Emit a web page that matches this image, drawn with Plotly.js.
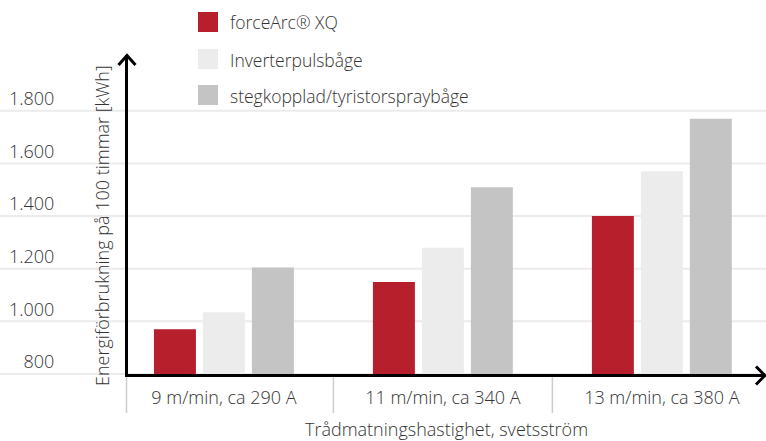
<!DOCTYPE html>
<html><head><meta charset="utf-8">
<script src="https://cdn.plot.ly/plotly-3.0.1.min.js"></script>
<style>html,body{margin:0;padding:0;background:#fff}</style>
</head><body><div id="chart" style="width:766px;height:441px"></div>
<script>
// ---- data ----
const categories = ['9 m/min, ca 290 A', '11 m/min, ca 340 A', '13 m/min, ca 380 A'];
const seriesNames = ['forceArc® XQ', 'Inverterpulsbåge', 'stegkopplad/tyristorspraybåge'];
const forceArcXQ = [970, 1150, 1400];
const inverterpulsbage = [1035, 1280, 1570];
const stegkopplad = [1205, 1510, 1770];
const yTicks = [800, 1000, 1200, 1400, 1600, 1800];
const xTitle = 'Trådmatningshastighet, svetsström';
const yTitle = 'Energiförbrukning på 100 timmar [kWh]';

// ---- style ----
const colors = ['#b71f2c', '#ececec', '#c4c4c4'];
const W = 766, H = 441, L = 128, R = 1, T = 55, B = 67;
const pw = W - L - R, ph = H - T - B;
const px = x => (x - L) / pw;
const py = y => (H - B - y) / ph;
const font = {family: '"Open Sans", sans-serif', size: 18, color: '#333333', weight: 300};
const legendFont = Object.assign({}, font, {size: 17.5});

const values = [forceArcXQ, inverterpulsbage, stegkopplad];
const traces = values.map((v, i) => ({
  type: 'bar', x: categories, y: v, name: seriesNames[i],
  marker: {color: colors[i], line: {width: 0}}, showlegend: false, hoverinfo: 'skip'
}));

const shapes = [];
// gridlines spanning full width
yTicks.forEach(v => shapes.push({
  type: 'line', xref: 'paper', yref: 'paper', x0: px(0), x1: px(W),
  y0: (v - 800) / (2012 - 800), y1: (v - 800) / (2012 - 800),
  line: {color: '#ebebeb', width: 2}, layer: 'below'
}));
// category dividers below the axis
shapes.push({type: 'line', xref: 'paper', yref: 'paper', x0: px(126.5), x1: px(126.5), y0: py(377), y1: py(413),
  line: {color: '#cccccc', width: 1.5}});
for (let i = 0; i < categories.length - 1; i++) {
  shapes.push({type: 'line', xref: 'x', yref: 'paper', x0: i + 0.5, x1: i + 0.5, y0: py(377), y1: py(413),
    line: {color: '#cccccc', width: 1.5}});
}
// arrowheads
shapes.push({type: 'path', xref: 'paper', yref: 'paper',
  path: `M${px(118.5)},${py(65)} L${px(127)},${py(55.5)} L${px(135.5)},${py(65)}`,
  line: {color: '#000', width: 3}});
shapes.push({type: 'path', xref: 'paper', yref: 'paper',
  path: `M${px(756)},${py(366.5)} L${px(765)},${py(375.5)} L${px(756)},${py(384.5)}`,
  line: {color: '#000', width: 3}});

// legend
const rowY = [22, 59, 95];
const annotations = [];
seriesNames.forEach((n, i) => {
  shapes.push({type: 'rect', xref: 'paper', yref: 'paper', x0: px(198), x1: px(218),
    y0: py(rowY[i] + 10), y1: py(rowY[i] - 10), fillcolor: colors[i], line: {width: 0}});
  annotations.push({xref: 'paper', yref: 'paper', x: px(228), y: py(rowY[i] + 0.5), xanchor: 'left', yanchor: 'middle',
    text: n, showarrow: false, font: legendFont});
});
// y title
annotations.push({xref: 'paper', yref: 'paper', x: px(102), y: py(226), xanchor: 'center', yanchor: 'middle',
  text: yTitle, textangle: -90, showarrow: false, font: font});

const layout = {
  width: W, height: H,
  margin: {l: L, r: R, t: T, b: B, pad: 0},
  paper_bgcolor: '#fff', plot_bgcolor: 'rgba(0,0,0,0)',
  separators: ',.',
  barmode: 'group', bargap: 0.329, bargroupgap: 0.143,
  font: font,
  xaxis: {
    type: 'category', range: [-0.438, 2.471], fixedrange: true,
    showline: true, linewidth: 3, linecolor: '#000', ticks: '', showgrid: false, zeroline: false,
    tickfont: font, ticklabelstandoff: 5, automargin: false,
    title: {text: xTitle, font: font, standoff: 19}
  },
  yaxis: {
    range: [800, 2012], fixedrange: true, tickvals: yTicks, tickformat: ',',
    showline: true, linewidth: 3, linecolor: '#000', ticks: '', showgrid: false, zeroline: false,
    tickfont: font, ticklabelstandoff: 67, ticklabelshift: -12, automargin: false
  },
  shapes: shapes, annotations: annotations
};
Plotly.newPlot('chart', traces, layout, {displayModeBar: false, staticPlot: true});
</script></body></html>
